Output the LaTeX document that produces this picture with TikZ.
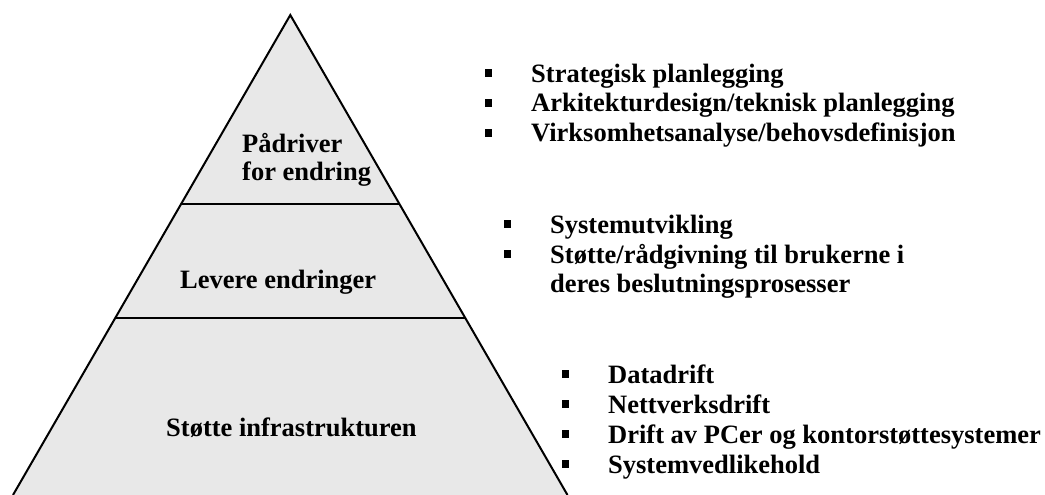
\documentclass[tikz,border=0pt]{standalone}
\usepackage{fontspec}
\setmainfont{Liberation Serif}
\usetikzlibrary{calc}
\definecolor{pyrfill}{HTML}{E8E8E8}
\tikzset{
  txt/.style={font=\fontsize{26.5}{29}\selectfont\bfseries, anchor=base west, inner sep=0pt, align=left},
  bul/.style={rectangle, fill=black, draw=none, minimum size=7.7pt, inner sep=0pt},
  edge/.style={line width=2pt, line join=miter},
}
\begin{document}
\begin{tikzpicture}[x=1pt,y=-1pt]
\useasboundingbox (0,0) rectangle (1045,495);
% pyramid
\coordinate (apex) at (290.3,15);
\coordinate (bl) at (13,495);
\coordinate (br) at (567.5,495);
\fill[pyrfill] (apex) -- (bl) -- (br) -- cycle;
\coordinate (d1l) at ($(apex)!0.3944!(bl)$);
\coordinate (d1r) at ($(apex)!0.3944!(br)$);
\coordinate (d2l) at ($(apex)!0.6313!(bl)$);
\coordinate (d2r) at ($(apex)!0.6313!(br)$);
\draw[edge] (d1l) -- (d1r);
\draw[edge] (d2l) -- (d2r);
\draw[edge] (bl) -- (apex) -- (br);
% pyramid labels
\node[txt] (top1) at (242,152) {Pådriver};
\node[txt] (top2) at (242,180) {for endring};
\node[txt] (mid) at (180,288) {Levere endringer};
\node[txt] (bot) at (166,436) {Støtte infrastrukturen};
% group 1
\node[txt] (g1a) at (531,82) {Strategisk planlegging};
\node[txt] (g1b) at (531,112) {Arkitekturdesign/teknisk planlegging};
\node[txt] (g1c) at (531,142) {Virksomhetsanalyse/behovsdefinisjon};
\node[bul] (b1a) at (488.5,73) {};
\node[bul] (b1b) at (488.5,103) {};
\node[bul] (b1c) at (488.5,133) {};
% group 2
\node[txt] (g2a) at (550,233) {Systemutvikling};
\node[txt] (g2b) at (550,263) {Støtte/rådgivning til brukerne i};
\node[txt] (g2c) at (550,292) {deres beslutningsprosesser};
\node[bul] (b2a) at (507.5,224) {};
\node[bul] (b2b) at (507.5,254) {};
% group 3
\node[txt] (g3a) at (608,383) {Datadrift};
\node[txt] (g3b) at (608,413) {Nettverksdrift};
\node[txt] (g3c) at (608,443) {Drift av PCer og kontorstøttesystemer};
\node[txt] (g3d) at (608,473) {Systemvedlikehold};
\node[bul] (b3a) at (565.5,374) {};
\node[bul] (b3b) at (565.5,404) {};
\node[bul] (b3c) at (565.5,434) {};
\node[bul] (b3d) at (565.5,464) {};
\end{tikzpicture}
\end{document}
